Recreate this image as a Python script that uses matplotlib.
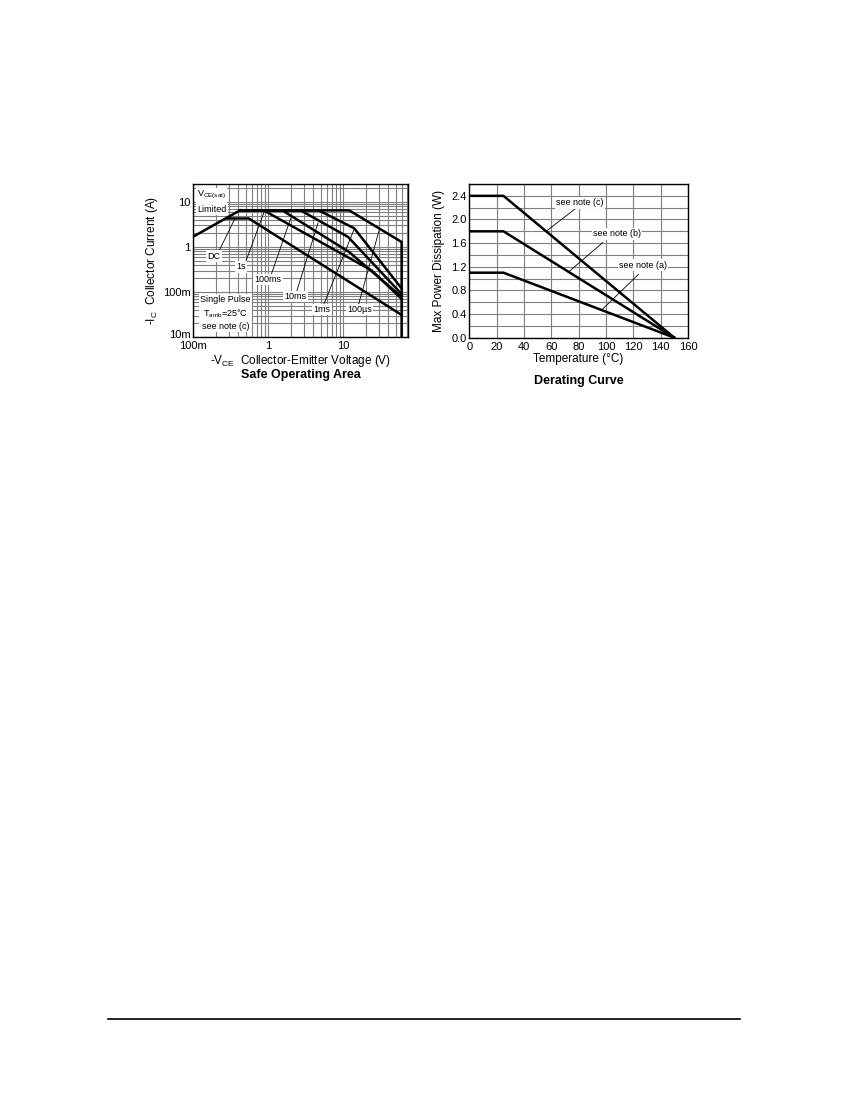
import numpy as np
import matplotlib
matplotlib.use("Agg")
import matplotlib.pyplot as plt
import matplotlib.transforms as mtrans
from matplotlib.ticker import FixedLocator, LogLocator, NullFormatter, MultipleLocator

plt.rcParams['font.family'] = ['Liberation Sans', 'DejaVu Sans']
plt.rcParams['mathtext.fontset'] = 'custom'
plt.rcParams['mathtext.rm'] = 'Liberation Sans'
plt.rcParams['mathtext.it'] = 'Liberation Sans:italic'

# Safe operating area curves (V in volts, I in amps)
sat_v = [0.1, 0.42]
sat_i = [1.7, 6.5]
dc_v = [0.28, 0.55, 60]
dc_i = [4.3, 4.3, 0.031]
s1_v = [0.42, 0.87, 24, 60]
s1_i = [6.5, 6.5, 0.30, 0.07]
ms100_v = [0.42, 1.54, 12, 60]
ms100_i = [6.5, 6.5, 0.77, 0.078]
ms10_v = [0.42, 2.7, 11.6, 60]
ms10_i = [6.5, 6.5, 1.67, 0.09]
ms1_v = [0.42, 4.7, 14, 60]
ms1_i = [6.5, 6.5, 2.6, 0.12]
us100_v = [0.42, 12, 60, 60]
us100_i = [6.5, 6.5, 1.29, 0.01]

soa_x_ticks = [0.1, 1, 10]
soa_x_labels = ["100m", "1", "10"]
soa_y_ticks = [0.01, 0.1, 1, 10]
soa_y_labels = ["10m", "100m", "1", "10"]

# Derating curve
temp = [0, 25, 150]
pd_c = [2.4, 2.4, 0]
pd_b = [1.8, 1.8, 0]
pd_a = [1.1, 1.1, 0]

fig = plt.figure(figsize=(8.5, 11), dpi=100)

grid_kw = dict(color='#7f7f7f', linewidth=0.8)
curve_kw = dict(color='black', linewidth=1.8, solid_joinstyle='miter')
lead_kw = dict(color='black', linewidth=0.6)
box = dict(boxstyle='square,pad=0.15', facecolor='white', edgecolor='none')

# ---- Safe Operating Area ----
ax1 = fig.add_axes([0.2274, 0.6936, 0.2526, 0.1391])
ax1.set_xscale('log')
ax1.set_yscale('log')
ax1.set_xlim(0.1, 73)
ax1.set_ylim(0.01, 25)
ax1.xaxis.set_major_locator(FixedLocator(soa_x_ticks))
ax1.yaxis.set_major_locator(FixedLocator(soa_y_ticks))
ax1.set_xticklabels(soa_x_labels)
ax1.set_yticklabels(soa_y_labels)
ax1.xaxis.set_minor_locator(LogLocator(base=10, subs=np.arange(2, 10)))
ax1.yaxis.set_minor_locator(LogLocator(base=10, subs=np.arange(2, 10)))
ax1.xaxis.set_minor_formatter(NullFormatter())
ax1.yaxis.set_minor_formatter(NullFormatter())
ax1.grid(True, which='both', **grid_kw)
ax1.tick_params(which='both', length=0, labelsize=8, pad=2)
ax1.tick_params(axis='x', pad=3)
ax1.set_axisbelow(True)
# nudge the bottom "10m" label up a little so it clears "100m"
lab = ax1.get_yticklabels()[0]
lab.set_transform(lab.get_transform() + mtrans.ScaledTranslation(0, 2.5 / 72, fig.dpi_scale_trans))

for v, i in [(sat_v, sat_i), (dc_v, dc_i), (s1_v, s1_i), (ms100_v, ms100_i),
             (ms10_v, ms10_i), (ms1_v, ms1_i), (us100_v, us100_i)]:
    ax1.plot(v, i, **curve_kw)

# curve labels with leader lines (text pos, line start, line end)
soa_notes = [
    ("DC", (0.19, 0.62), (0.215, 0.75), (0.36, 4.3)),
    ("1s", (0.43, 0.36), (0.50, 0.47), (0.88, 6.0)),
    ("100ms", (1.0, 0.19), (1.1, 0.25), (2.0, 4.4)),
    ("10ms", (2.3, 0.080), (2.4, 0.105), (4.6, 3.4)),
    ("1ms", (5.2, 0.041), (5.5, 0.053), (14.0, 2.5)),
    ("100µs", (16.5, 0.041), (16.0, 0.053), (30.0, 2.3)),
]
for txt, tpos, p0, p1 in soa_notes:
    ax1.plot([p0[0], p1[0]], [p0[1], p1[1]], **lead_kw)
    ax1.text(tpos[0], tpos[1], txt, fontsize=6.5, ha='center', va='center',
             bbox=box, zorder=5)

ax1.text(0.112, 14.1, "V$_{\\mathrm{CE(sat)}}$", fontsize=6.5, ha='left', va='center',
         bbox=box, zorder=5)
ax1.text(0.112, 6.9, "Limited", fontsize=6.5, ha='left', va='center', bbox=box, zorder=5)
ax1.text(0.27, 0.034, "Single Pulse\nT$_{\\mathrm{amb}}$=25°C\nsee note (c)", fontsize=6.5,
         ha='center', va='center', linespacing=1.3, bbox=box, zorder=5)

ax1.set_ylabel("-I$_{\\mathrm{C}}$  Collector Current (A)", fontsize=8.5, labelpad=2)
ax1.set_xlabel("-V$_{\\mathrm{CE}}$  Collector-Emitter Voltage (V)", fontsize=8.5, labelpad=1)
fig.text(0.3537, 0.659, "Safe Operating Area", fontsize=9, fontweight='bold',
         ha='center', va='center')

# ---- Derating Curve ----
ax2 = fig.add_axes([0.5521, 0.693, 0.2573, 0.1397])
ax2.set_xlim(0, 160)
ax2.set_ylim(0, 2.6)
ax2.xaxis.set_major_locator(MultipleLocator(20))
ax2.yaxis.set_major_locator(MultipleLocator(0.4))
ax2.yaxis.set_minor_locator(MultipleLocator(0.2))
ax2.yaxis.set_major_formatter(matplotlib.ticker.FormatStrFormatter('%.1f'))
ax2.grid(True, which='both', **grid_kw)
ax2.tick_params(which='both', length=0, labelsize=8, pad=2)
ax2.tick_params(axis='x', pad=3)
ax2.set_axisbelow(True)

for p in [pd_c, pd_b, pd_a]:
    ax2.plot(temp, p, **curve_kw)

der_notes = [
    ("see note (c)", (81, 2.28), (78.6, 2.20), (56.2, 1.80)),
    ("see note (b)", (108, 1.76), (97.7, 1.61), (73, 1.12)),
    ("see note (a)", (127, 1.225), (123.7, 1.07), (96.9, 0.47)),
]
for txt, tpos, p0, p1 in der_notes:
    ax2.plot([p0[0], p1[0]], [p0[1], p1[1]], **lead_kw)
    ax2.text(tpos[0], tpos[1], txt, fontsize=6.5, ha='center', va='center',
             bbox=box, zorder=5)

ax2.set_ylabel("Max Power Dissipation (W)", fontsize=8.5, labelpad=4)
ax2.set_xlabel("Temperature (°C)", fontsize=8.5, labelpad=1)
fig.text(0.6808, 0.654, "Derating Curve", fontsize=9, fontweight='bold',
         ha='center', va='center')

for ax in (ax1, ax2):
    for s in ax.spines.values():
        s.set_linewidth(1.0)

# page footer rule
fig.add_artist(plt.Line2D([108 / 850, 740 / 850], [1 - 1019 / 1100] * 2,
                          color='black', linewidth=1.2))

fig.savefig("out.png", dpi=100)
